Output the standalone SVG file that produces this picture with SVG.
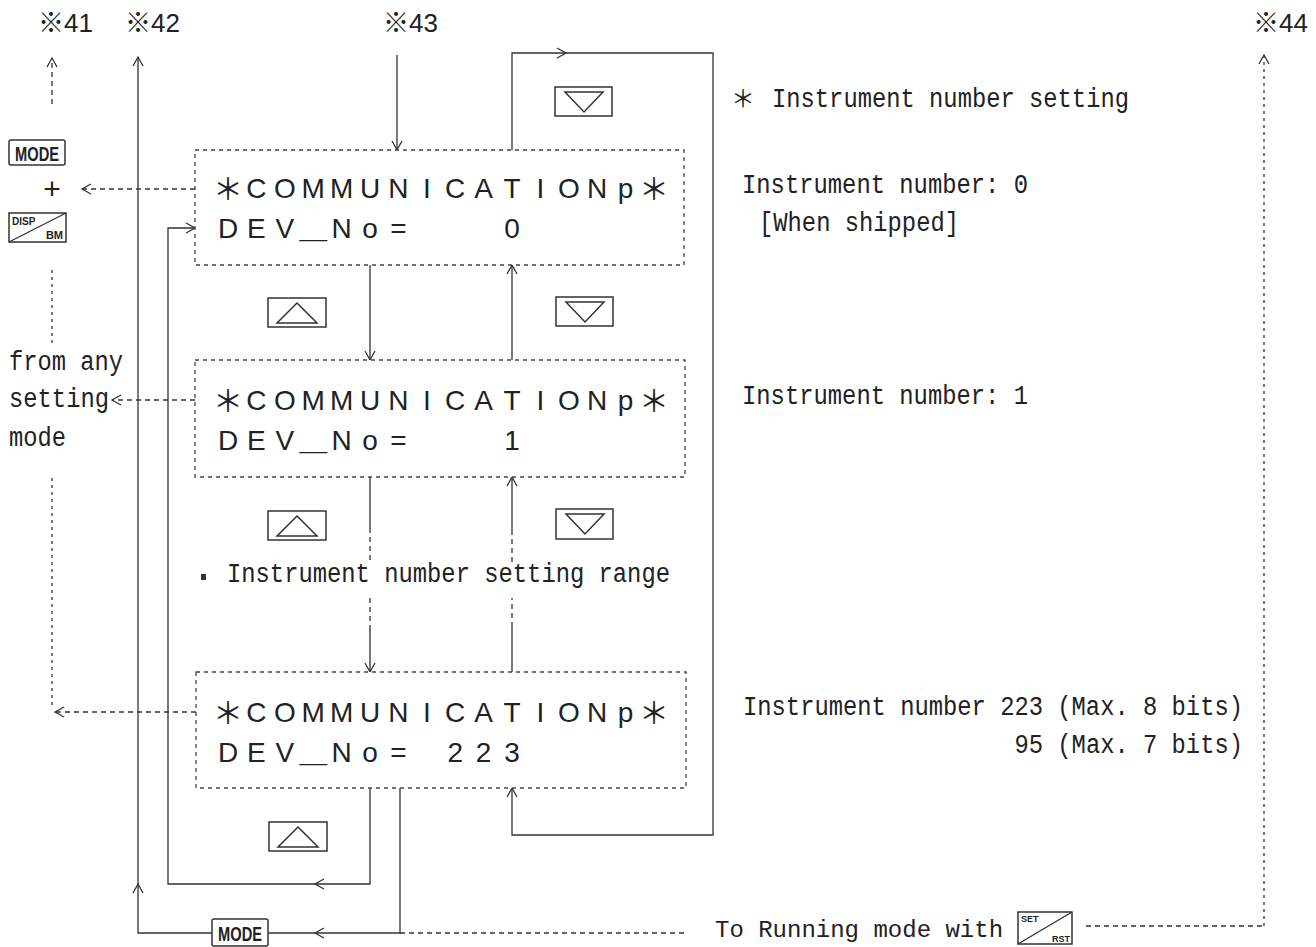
<svg xmlns="http://www.w3.org/2000/svg" xmlns:xlink="http://www.w3.org/1999/xlink" width="1316" height="947" viewBox="0 0 1316 947">
<style>
.ln{fill:none;stroke:#333;stroke-width:1.3}
.da{stroke-dasharray:5 4}
.dt{stroke-dasharray:3 4}
.box{fill:#fff;stroke:#444;stroke-width:1.3;stroke-dasharray:4 4}
.lcd{font-family:"Liberation Sans",Arial,sans-serif;font-size:28px;fill:#222;text-anchor:middle}
.ast{font-family:"Noto Sans CJK JP",sans-serif;font-size:30px}
.us{font-family:"Noto Sans CJK JP",sans-serif;font-size:28px}
.mono{font-family:"Liberation Mono","Courier New",monospace;font-size:27px;fill:#222}
.mono24{font-family:"Liberation Mono","Courier New",monospace;font-size:24px;fill:#222}
.ref{font-family:"Liberation Sans","Noto Sans CJK JP",sans-serif;font-size:26px;fill:#222}
.key{fill:#fff;stroke:#333;stroke-width:1.5}
.kt{font-family:"Liberation Sans",Arial,sans-serif;font-weight:bold;fill:#222}
.btn{fill:#fff;stroke:#333;stroke-width:1.5}
.tri{fill:none;stroke:#333;stroke-width:1.5}
.chev{fill:none;stroke:#333;stroke-width:1.3}
</style>
<defs>
<marker id="ah" markerWidth="12" markerHeight="12" refX="10" refY="6" orient="auto" markerUnits="userSpaceOnUse">
<path d="M1,1 L10,6 L1,11" fill="none" stroke="#333" stroke-width="1.3" stroke-dasharray="none"/>
</marker>
<path id="chev" class="chev" d="M-9,-5 L0,0 L-9,5"/>
</defs>

<g id="labels-ref">
<text class="ref" x="38" y="32">※41</text>
<text class="ref" x="125" y="32">※42</text>
<text class="ref" x="383" y="32">※43</text>
<text class="ref" x="1253" y="32">※44</text>
</g>

<g id="connectors">
<path class="ln da" d="M52,104 V58" marker-end="url(#ah)"/>
<path class="ln da" d="M195,189 H82" marker-end="url(#ah)"/>
<path class="ln dt" d="M52,270 V345"/>
<path class="ln da" d="M195,400 H112" marker-end="url(#ah)"/>
<path class="ln dt" d="M52,478 V708"/>
<path class="ln da" d="M196,712 H55" marker-end="url(#ah)"/>
<path class="ln" d="M400,788 V933 H268"/>
<path class="ln" d="M212,933 H138 V57" marker-end="url(#ah)"/>
<use xlink:href="#chev" transform="translate(315,933) rotate(180)"/>
<use xlink:href="#chev" transform="translate(138,884) rotate(-90)"/>
<path class="ln da" d="M400,933 H687"/>
<path class="ln" d="M370,788 V884 H168 V228 H195" marker-end="url(#ah)"/>
<use xlink:href="#chev" transform="translate(315,884) rotate(180)"/>
<path class="ln" d="M397,55 V150" marker-end="url(#ah)"/>
<path class="ln" d="M512,150 V53 H713 V835 H512 V788" marker-end="url(#ah)"/>
<use xlink:href="#chev" transform="translate(566,53)"/>
<path class="ln" d="M370,265 V360" marker-end="url(#ah)"/>
<path class="ln" d="M512,360 V265" marker-end="url(#ah)"/>
<path class="ln" d="M370,477 V528"/>
<path class="ln da" d="M370,528 V562"/>
<path class="ln da" d="M370,598 V627"/>
<path class="ln" d="M370,627 V672" marker-end="url(#ah)"/>
<path class="ln" d="M512,672 V627"/>
<path class="ln da" d="M512,627 V598"/>
<path class="ln da" d="M512,562 V530"/>
<path class="ln" d="M512,530 V477" marker-end="url(#ah)"/>
<path class="ln da" d="M1086,926 H1264"/>
<path class="ln dt" d="M1264,926 V55" marker-end="url(#ah)"/>
</g>

<g id="node-box0">
<rect class="box" x="195" y="150" width="489" height="115"/>
<text class="lcd" y="198"><tspan class="ast" x="228" dy="2">＊</tspan><tspan x="256.4 284.8 313.2 341.6 370 398.4 426.8 455.2 483.6 512 540.4 568.8 597.2 625.6" dy="-2">COMMUNICATIONp</tspan><tspan class="ast" x="654" dy="2">＊</tspan></text>
<text class="lcd" y="238"><tspan x="228 256.4 284.8">DEV</tspan><tspan class="us" x="313.2">＿</tspan><tspan x="341.6 370 398.4">No=</tspan><tspan x="512">0</tspan></text>
</g>

<g id="node-box1">
<rect class="box" x="195" y="360" width="490" height="117"/>
<text class="lcd" y="410"><tspan class="ast" x="228" dy="2">＊</tspan><tspan x="256.4 284.8 313.2 341.6 370 398.4 426.8 455.2 483.6 512 540.4 568.8 597.2 625.6" dy="-2">COMMUNICATIONp</tspan><tspan class="ast" x="654" dy="2">＊</tspan></text>
<text class="lcd" y="450"><tspan x="228 256.4 284.8">DEV</tspan><tspan class="us" x="313.2">＿</tspan><tspan x="341.6 370 398.4">No=</tspan><tspan x="512">1</tspan></text>
</g>

<g id="node-box2">
<rect class="box" x="196" y="672" width="490" height="116"/>
<text class="lcd" y="722"><tspan class="ast" x="228" dy="2">＊</tspan><tspan x="256.4 284.8 313.2 341.6 370 398.4 426.8 455.2 483.6 512 540.4 568.8 597.2 625.6" dy="-2">COMMUNICATIONp</tspan><tspan class="ast" x="654" dy="2">＊</tspan></text>
<text class="lcd" y="762"><tspan x="228 256.4 284.8">DEV</tspan><tspan class="us" x="313.2">＿</tspan><tspan x="341.6 370 398.4">No=</tspan><tspan x="455.2 483.6 512">223</tspan></text>
</g>

<g id="buttons">
<g id="btn-down-1"><rect class="btn" x="555" y="87" width="57" height="29"/><path class="tri" d="M565,92 H603 L584,112 Z"/></g>
<g id="btn-up-1"><rect class="btn" x="268" y="298" width="58" height="29"/><path class="tri" d="M277,323 H317 L297,303 Z"/></g>
<g id="btn-down-2"><rect class="btn" x="556" y="297" width="57" height="29"/><path class="tri" d="M566,302 H604 L585,322 Z"/></g>
<g id="btn-up-2"><rect class="btn" x="268" y="511" width="58" height="29"/><path class="tri" d="M277,536 H317 L297,516 Z"/></g>
<g id="btn-down-3"><rect class="btn" x="556" y="509" width="57" height="30"/><path class="tri" d="M566,514 H604 L585,534 Z"/></g>
<g id="btn-up-3"><rect class="btn" x="269" y="822" width="58" height="29"/><path class="tri" d="M278,847 H318 L298,827 Z"/></g>
</g>

<g id="keys">
<g id="key-mode-top"><rect class="key" x="9" y="140" width="56" height="25" rx="2"/><text class="kt" x="15" y="161" font-size="21" textLength="44" lengthAdjust="spacingAndGlyphs">MODE</text></g>
<text id="plus" x="52" y="199" font-family="Liberation Sans,sans-serif" font-size="30" fill="#222" text-anchor="middle">+</text>
<g id="key-disp"><rect class="key" x="9" y="213" width="57" height="29"/><path class="ln" d="M9,242 L66,213"/><text class="kt" x="12" y="225" font-size="10">DISP</text><text class="kt" x="63" y="239" font-size="11" text-anchor="end">BM</text></g>
<g id="key-mode-bottom"><rect class="key" x="212" y="919" width="56" height="27" rx="2"/><text class="kt" x="218" y="941" font-size="21" textLength="44" lengthAdjust="spacingAndGlyphs">MODE</text></g>
<g id="key-set"><rect class="key" x="1018" y="912" width="54" height="32"/><path class="ln" d="M1018,944 L1072,912"/><text class="kt" x="1021" y="922" font-size="9">SET</text><text class="kt" x="1070" y="942" font-size="9" text-anchor="end">RST</text></g>
</g>

<g id="notes">
<text x="731" y="107" font-family="Noto Sans CJK JP,sans-serif" font-size="24" fill="#222">＊</text>
<text class="mono" x="772" y="107" textLength="357" lengthAdjust="spacingAndGlyphs">Instrument number setting</text>
<text class="mono" x="742" y="193" textLength="286" lengthAdjust="spacingAndGlyphs">Instrument number: 0</text>
<text class="mono" x="759" y="231" textLength="200" lengthAdjust="spacingAndGlyphs">[When shipped]</text>
<text class="mono" x="742" y="404" textLength="286" lengthAdjust="spacingAndGlyphs">Instrument number: 1</text>
<text class="mono" x="743" y="715" textLength="500" lengthAdjust="spacingAndGlyphs">Instrument number 223 (Max. 8 bits)</text>
<text class="mono" x="1014.5" y="753" textLength="228.5" lengthAdjust="spacingAndGlyphs">95 (Max. 7 bits)</text>
<text class="mono24" x="715" y="937">To Running mode with</text>
<text class="mono" x="9" y="370" textLength="114" lengthAdjust="spacingAndGlyphs">from any</text>
<text class="mono" x="9" y="407" textLength="100" lengthAdjust="spacingAndGlyphs">setting</text>
<text class="mono" x="9" y="446" textLength="57" lengthAdjust="spacingAndGlyphs">mode</text>
<rect x="201" y="574" width="5" height="6" fill="#333"/>
<text class="mono" x="227" y="582" textLength="443" lengthAdjust="spacingAndGlyphs">Instrument number setting range</text>
</g>
</svg>
